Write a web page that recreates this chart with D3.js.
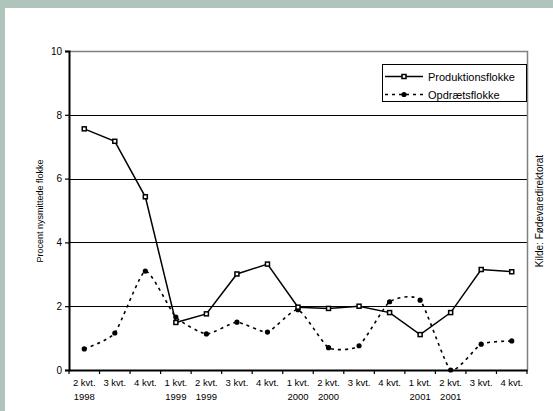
<!DOCTYPE html>
<html>
<head>
<meta charset="utf-8">
<script src="https://cdn.jsdelivr.net/npm/d3@7"></script>
<style>
  html, body { margin: 0; padding: 0; background: #fff; }
  svg { display: block; font-family: "Liberation Sans", Arial, sans-serif; }
</style>
</head>
<body>
<div id="chart"></div>
<script>
// quarters, two-line labels
const quarters = ["2 kvt.", "3 kvt.", "4 kvt.", "1 kvt.", "2 kvt.", "3 kvt.", "4 kvt.",
  "1 kvt.", "2 kvt.", "3 kvt.", "4 kvt.", "1 kvt.", "2 kvt.", "3 kvt.", "4 kvt."];
const years = ["1998", "", "", "1999", "1999", "", "", "2000", "2000", "", "", "2001", "2001", "", ""];

const produktion = [7.56, 7.17, 5.43, 1.49, 1.76, 3.01, 3.32, 1.97, 1.93, 2.0, 1.8, 1.11, 1.8, 3.15, 3.08];
const opdraet = [0.66, 1.16, 3.1, 1.66, 1.13, 1.5, 1.19, 1.89, 0.7, 0.76, 2.14, 2.19, 0, 0.81, 0.91];

const yTicks = [0, 2, 4, 6, 8, 10];

const W = 553, H = 411;
const m = { left: 69, right: 527, top: 51, bottom: 370 };

const svg = d3.select("#chart").append("svg")
  .attr("width", W).attr("height", H);

// frame background
svg.append("rect").attr("width", W).attr("height", H).attr("fill", "#afc4bb");
svg.append("rect").attr("x", 5).attr("y", 8).attr("width", W - 5).attr("height", H - 8).attr("fill", "#fff");

const idx = d3.range(quarters.length);
const x = d3.scaleBand().domain(idx).range([m.left, m.right]);
const y = d3.scaleLinear().domain([0, 10]).range([m.bottom, m.top]);
const cx = i => x(i) + x.bandwidth() / 2;

// gridlines
svg.append("g")
  .selectAll("line")
  .data(yTicks.filter(d => d > 0 && d < 10))
  .join("line")
  .attr("x1", m.left).attr("x2", m.right)
  .attr("y1", d => Math.round(y(d)) + 0.5).attr("y2", d => Math.round(y(d)) + 0.5)
  .attr("stroke", "#000").attr("stroke-width", 1);

// plot border top/right (gray)
svg.append("path")
  .attr("d", `M${m.left},${m.top + 0.5}H${m.right + 0.5}V${m.bottom}`)
  .attr("fill", "none").attr("stroke", "#808080").attr("stroke-width", 1.5);

// y axis
const yAxis = svg.append("g")
  .attr("transform", `translate(${m.left},0)`)
  .call(d3.axisLeft(y).tickValues(yTicks).tickSize(4).tickPadding(3));
yAxis.attr("font-family", "Liberation Sans, Arial, sans-serif");
yAxis.select(".domain").attr("stroke-width", 2);
yAxis.selectAll(".tick line").attr("stroke-width", 1.2);
yAxis.selectAll("text").attr("font-size", 10).attr("fill", "#000");

// x axis
const xAxis = svg.append("g")
  .attr("transform", `translate(0,${m.bottom})`)
  .call(d3.axisBottom(x).tickSize(0).tickFormat(""));
xAxis.select(".domain").attr("stroke-width", 2);
xAxis.selectAll(".tick line").remove();

// tick marks on band boundaries
svg.append("g")
  .selectAll("line")
  .data(idx.concat([quarters.length]))
  .join("line")
  .attr("x1", i => i < quarters.length ? x(i) : m.right)
  .attr("x2", i => i < quarters.length ? x(i) : m.right)
  .attr("y1", m.bottom).attr("y2", m.bottom + 4)
  .attr("stroke", "#000").attr("stroke-width", 1.2);

// x labels
const xl = svg.append("g").attr("font-size", 9.5).attr("text-anchor", "middle").attr("fill", "#000");
xl.selectAll("text.q").data(idx).join("text").attr("class", "q")
  .attr("x", cx).attr("y", 386).text(i => quarters[i]);
xl.selectAll("text.y").data(idx).join("text").attr("class", "y")
  .attr("x", cx).attr("y", 400).text(i => years[i]);

// axis titles
svg.append("text")
  .attr("transform", "translate(43,211) rotate(-90)")
  .attr("text-anchor", "middle").attr("font-size", 9).text("Procent nysmittede flokke");
svg.append("text")
  .attr("transform", "translate(543,211) rotate(-90)")
  .attr("text-anchor", "middle").attr("font-size", 10).text("Kilde: Fødevaredirektorat");

// series: Opdrætsflokke (smoothed, dashed)
const lineO = d3.line().x((d, i) => cx(i)).y(d => y(d)).curve(d3.curveCardinal.tension(0.45));
svg.append("path").datum(opdraet)
  .attr("d", lineO).attr("fill", "none").attr("stroke", "#000")
  .attr("stroke-width", 1.6).attr("stroke-dasharray", "3,4");
svg.append("g").selectAll("circle").data(opdraet).join("circle")
  .attr("cx", (d, i) => cx(i)).attr("cy", d => y(d)).attr("r", 2.6).attr("fill", "#000");

// series: Produktionsflokke (solid)
const lineP = d3.line().x((d, i) => cx(i)).y(d => y(d));
svg.append("path").datum(produktion)
  .attr("d", lineP).attr("fill", "none").attr("stroke", "#000").attr("stroke-width", 1.5);
svg.append("g").selectAll("rect").data(produktion).join("rect")
  .attr("x", (d, i) => cx(i) - 2).attr("y", d => y(d) - 2)
  .attr("width", 4).attr("height", 4)
  .attr("fill", "#fff").attr("stroke", "#000").attr("stroke-width", 1.5);

// legend
const lg = svg.append("g");
lg.append("rect").attr("x", 382.5).attr("y", 64.5).attr("width", 144).attr("height", 37)
  .attr("fill", "#fff").attr("stroke", "#000").attr("stroke-width", 1);
lg.append("line").attr("x1", 385).attr("x2", 423).attr("y1", 76.5).attr("y2", 76.5)
  .attr("stroke", "#000").attr("stroke-width", 1.5);
lg.append("rect").attr("x", 402).attr("y", 74.5).attr("width", 4).attr("height", 4)
  .attr("fill", "#fff").attr("stroke", "#000").attr("stroke-width", 1.5);
lg.append("line").attr("x1", 385).attr("x2", 423).attr("y1", 94.5).attr("y2", 94.5)
  .attr("stroke", "#000").attr("stroke-width", 1.6).attr("stroke-dasharray", "3,4");
lg.append("circle").attr("cx", 404).attr("cy", 94.5).attr("r", 2.6).attr("fill", "#000");
lg.append("text").attr("x", 428).attr("y", 81).attr("font-size", 11).text("Produktionsflokke");
lg.append("text").attr("x", 428).attr("y", 99).attr("font-size", 11).text("Opdrætsflokke");
</script>
</body>
</html>
